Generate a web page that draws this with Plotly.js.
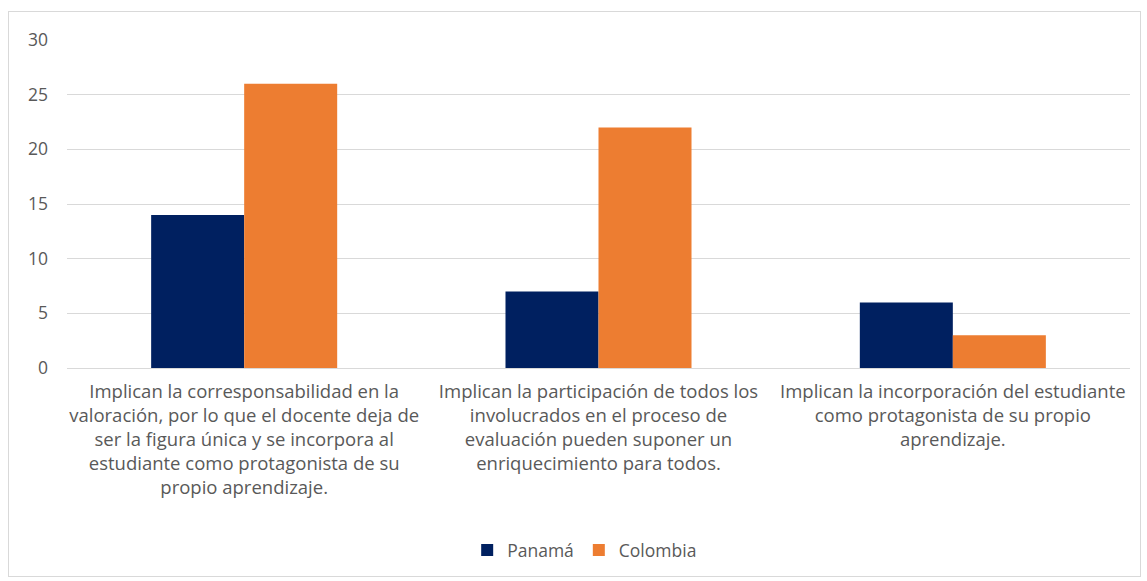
<!DOCTYPE html>
<html>
<head>
<meta charset="utf-8">
<script src="https://cdn.plot.ly/plotly-3.0.1.min.js"></script>
<style>
html,body{margin:0;padding:0;background:#fff;}
#wrap{position:relative;width:1147px;height:581px;}
#chart{position:absolute;left:0;top:0;width:1147px;height:581px;}
#frame{position:absolute;left:8px;top:11px;width:1131px;height:564px;border:1px solid #d9d9d9;pointer-events:none;}
</style>
</head>
<body>
<div id="wrap"><div id="chart"></div><div id="frame"></div></div>
<script>
const categories = [
  "Implican la corresponsabilidad en la<br>valoración, por lo que el docente deja de<br>ser la figura única y se incorpora al<br>estudiante como protagonista de su<br>propio aprendizaje.",
  "Implican la participación de todos los<br>involucrados en el proceso de<br>evaluación pueden suponer un<br>enriquecimiento para todos.",
  "Implican la incorporación del estudiante<br>como protagonista de su propio<br>aprendizaje."
];
const panama = [14, 7, 6];
const colombia = [26, 22, 3];
const yTicks = [0, 5, 10, 15, 20, 25, 30];

const fam = "Open Sans, Liberation Sans, sans-serif";
const font = {family: fam, size: 17.5, color: "#595959"};

const data = [
  {type: "bar", name: "Panamá", x: categories, y: panama, marker: {color: "#002060"}},
  {type: "bar", name: "Colombia", x: categories, y: colombia, marker: {color: "#ED7D31"}}
];

const layout = {
  width: 1147, height: 581,
  margin: {l: 67, r: 17, t: 40, b: 213},
  paper_bgcolor: "#ffffff", plot_bgcolor: "#ffffff",
  font: font,
  barmode: "group",
  bargap: 0.475, bargroupgap: 0,
  showlegend: true,
  legend: {orientation: "h", x: 0.487, xanchor: "center", y: -0.555, yanchor: "middle",
           font: {family: fam, size: 17.5, color: "#595959"}, itemwidth: 30, traceorder: "normal"},
  xaxis: {type: "category", showgrid: false, zeroline: false, showline: false, ticks: "",
          ticklabelstandoff: 10,
          tickfont: {family: fam, size: 18.5, color: "#595959"}, fixedrange: true},
  yaxis: {range: [0, 30], tickvals: yTicks, ticktext: yTicks.map(String), showgrid: true,
          gridcolor: "#d9d9d9", gridwidth: 1, zeroline: true, zerolinecolor: "#d9d9d9", zerolinewidth: 1,
          showline: false, ticks: "", ticklabelstandoff: 18,
          tickfont: {family: fam, size: 17.5, color: "#595959"}, fixedrange: true}
};

Plotly.newPlot("chart", data, layout, {displayModeBar: false, staticPlot: true});
</script>
</body>
</html>
